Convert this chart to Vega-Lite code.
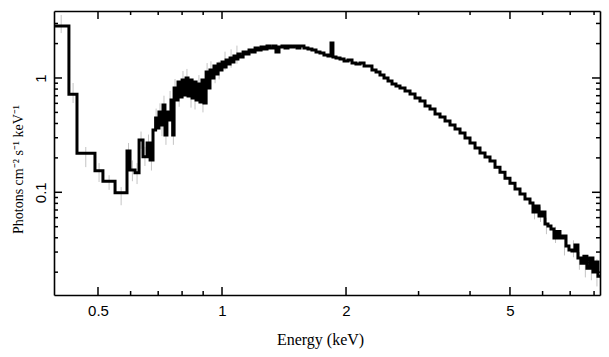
{
  "$schema": "https://vega.github.io/schema/vega-lite/v6.json",
  "width": 546,
  "height": 284,
  "autosize": {"type": "none"},
  "padding": {"left": 54, "top": 11, "right": 9, "bottom": 62},
  "background": "white",
  "config": {
    "view": {"stroke": null},
    "axis": {
      "grid": false,
      "domainColor": "black",
      "domainWidth": 1.6,
      "labelFont": "Liberation Sans",
      "labelFontSize": 15,
      "labelColor": "black",
      "labelOverlap": false,
      "labelFlush": false,
      "titleFont": "Liberation Serif",
      "titleFontSize": 15,
      "titleFontWeight": "normal",
      "titleColor": "black"
    }
  },
  "datasets": {
    "spec": [
      {"e": 0.385, "f": 2.85}, {"e": 0.425, "f": 0.72}, {"e": 0.4446, "f": 0.219}, {"e": 0.4916, "f": 0.154},
      {"e": 0.514, "f": 0.125}, {"e": 0.55, "f": 0.099}, {"e": 0.588, "f": 0.23}, {"e": 0.598, "f": 0.157},
      {"e": 0.615, "f": 0.148}, {"e": 0.629, "f": 0.287}, {"e": 0.643, "f": 0.205}, {"e": 0.658, "f": 0.27},
      {"e": 0.669, "f": 0.192}, {"e": 0.68, "f": 0.351}, {"e": 0.69, "f": 0.447}, {"e": 0.695, "f": 0.365},
      {"e": 0.703, "f": 0.504}, {"e": 0.711, "f": 0.388}, {"e": 0.719, "f": 0.58}, {"e": 0.727, "f": 0.317},
      {"e": 0.735, "f": 0.504}, {"e": 0.744, "f": 0.429}, {"e": 0.752, "f": 0.642}, {"e": 0.759, "f": 0.317},
      {"e": 0.765, "f": 0.818}, {"e": 0.773, "f": 0.642}, {"e": 0.782, "f": 0.923}, {"e": 0.791, "f": 0.682},
      {"e": 0.8, "f": 0.96}, {"e": 0.809, "f": 0.71}, {"e": 0.818, "f": 1.0}, {"e": 0.827, "f": 0.696},
      {"e": 0.836, "f": 0.96}, {"e": 0.846, "f": 0.668}, {"e": 0.855, "f": 0.923}, {"e": 0.865, "f": 0.642},
      {"e": 0.874, "f": 0.886}, {"e": 0.884, "f": 0.617}, {"e": 0.894, "f": 0.96}, {"e": 0.904, "f": 0.604},
      {"e": 0.915, "f": 1.129}, {"e": 0.925, "f": 0.818}, {"e": 0.935, "f": 1.175}, {"e": 0.946, "f": 1.0},
      {"e": 0.956, "f": 1.274}, {"e": 0.967, "f": 1.084}, {"e": 0.978, "f": 1.326}, {"e": 0.989, "f": 1.175},
      {"e": 1.0, "f": 1.38}, {"e": 1.011, "f": 1.248}, {"e": 1.023, "f": 1.437}, {"e": 1.034, "f": 1.326},
      {"e": 1.046, "f": 1.496}, {"e": 1.058, "f": 1.38}, {"e": 1.069, "f": 1.557}, {"e": 1.081, "f": 1.467},
      {"e": 1.093, "f": 1.622}, {"e": 1.106, "f": 1.527}, {"e": 1.125, "f": 1.689}, {"e": 1.144, "f": 1.622},
      {"e": 1.163, "f": 1.758}, {"e": 1.183, "f": 1.689}, {"e": 1.203, "f": 1.83}, {"e": 1.223, "f": 1.758},
      {"e": 1.244, "f": 1.868}, {"e": 1.265, "f": 1.794}, {"e": 1.286, "f": 1.905}, {"e": 1.307, "f": 1.83},
      {"e": 1.33, "f": 1.905}, {"e": 1.352, "f": 1.689}, {"e": 1.375, "f": 1.868}, {"e": 1.398, "f": 1.905},
      {"e": 1.422, "f": 1.83}, {"e": 1.446, "f": 1.905}, {"e": 1.47, "f": 1.868}, {"e": 1.495, "f": 1.905},
      {"e": 1.521, "f": 1.83}, {"e": 1.546, "f": 1.905}, {"e": 1.581, "f": 1.83}, {"e": 1.617, "f": 1.794},
      {"e": 1.653, "f": 1.758}, {"e": 1.691, "f": 1.689}, {"e": 1.729, "f": 1.656}, {"e": 1.768, "f": 1.59},
      {"e": 1.808, "f": 1.557}, {"e": 1.839, "f": 2.02}, {"e": 1.859, "f": 1.527}, {"e": 1.891, "f": 1.496},
      {"e": 1.934, "f": 1.467}, {"e": 1.978, "f": 1.409}, {"e": 2.022, "f": 1.437}, {"e": 2.068, "f": 1.353},
      {"e": 2.114, "f": 1.326}, {"e": 2.163, "f": 1.353}, {"e": 2.212, "f": 1.274}, {"e": 2.261, "f": 1.274},
      {"e": 2.312, "f": 1.175}, {"e": 2.365, "f": 1.129}, {"e": 2.418, "f": 1.062}, {"e": 2.473, "f": 1.0},
      {"e": 2.529, "f": 0.941}, {"e": 2.586, "f": 0.886}, {"e": 2.644, "f": 0.851}, {"e": 2.704, "f": 0.818},
      {"e": 2.781, "f": 0.77}, {"e": 2.86, "f": 0.725}, {"e": 2.941, "f": 0.668}, {"e": 3.024, "f": 0.629},
      {"e": 3.11, "f": 0.569}, {"e": 3.198, "f": 0.536}, {"e": 3.289, "f": 0.484}, {"e": 3.382, "f": 0.456},
      {"e": 3.478, "f": 0.42}, {"e": 3.576, "f": 0.388}, {"e": 3.678, "f": 0.358}, {"e": 3.782, "f": 0.33},
      {"e": 3.889, "f": 0.299}, {"e": 3.999, "f": 0.27}, {"e": 4.113, "f": 0.244}, {"e": 4.229, "f": 0.221},
      {"e": 4.349, "f": 0.204}, {"e": 4.472, "f": 0.188}, {"e": 4.599, "f": 0.166}, {"e": 4.729, "f": 0.15},
      {"e": 4.863, "f": 0.133}, {"e": 5.0, "f": 0.12}, {"e": 5.143, "f": 0.107}, {"e": 5.288, "f": 0.0965},
      {"e": 5.438, "f": 0.0873}, {"e": 5.592, "f": 0.0805}, {"e": 5.686, "f": 0.0673}, {"e": 5.783, "f": 0.076},
      {"e": 5.881, "f": 0.062}, {"e": 5.98, "f": 0.0673}, {"e": 6.081, "f": 0.0527}, {"e": 6.184, "f": 0.0506},
      {"e": 6.288, "f": 0.0478}, {"e": 6.394, "f": 0.0398}, {"e": 6.502, "f": 0.0453}, {"e": 6.612, "f": 0.0398},
      {"e": 6.724, "f": 0.0414}, {"e": 6.839, "f": 0.0339}, {"e": 6.953, "f": 0.0313}, {"e": 7.07, "f": 0.0306},
      {"e": 7.19, "f": 0.0346}, {"e": 7.311, "f": 0.0266}, {"e": 7.435, "f": 0.024}, {"e": 7.559, "f": 0.0276},
      {"e": 7.687, "f": 0.0217}, {"e": 7.818, "f": 0.0266}, {"e": 7.95, "f": 0.0201}, {"e": 8.085, "f": 0.0245},
      {"e": 8.176, "f": 0.0184}, {"e": 8.4, "f": 0.0184}
    ],
    "err": [
      {"ec": 0.407, "lo": 2.47, "hi": 3.56}, {"ec": 0.435, "lo": 0.604, "hi": 0.904}, {"ec": 0.467, "lo": 0.166, "hi": 0.249},
      {"ec": 0.503, "lo": 0.123, "hi": 0.18}, {"ec": 0.532, "lo": 0.105, "hi": 0.141}, {"ec": 0.569, "lo": 0.077, "hi": 0.111},
      {"ec": 0.593, "lo": 0.19, "hi": 0.27}, {"ec": 0.606, "lo": 0.125, "hi": 0.19}, {"ec": 0.622, "lo": 0.118, "hi": 0.18},
      {"ec": 0.636, "lo": 0.24, "hi": 0.34}, {"ec": 0.65, "lo": 0.17, "hi": 0.25}, {"ec": 0.663, "lo": 0.22, "hi": 0.32},
      {"ec": 0.674, "lo": 0.155, "hi": 0.23}, {"ec": 0.692, "lo": 0.36, "hi": 0.54}, {"ec": 0.707, "lo": 0.41, "hi": 0.6},
      {"ec": 0.715, "lo": 0.31, "hi": 0.46}, {"ec": 0.723, "lo": 0.47, "hi": 0.7}, {"ec": 0.731, "lo": 0.26, "hi": 0.39},
      {"ec": 0.748, "lo": 0.52, "hi": 0.77}, {"ec": 0.762, "lo": 0.26, "hi": 0.4}, {"ec": 0.769, "lo": 0.67, "hi": 0.98},
      {"ec": 0.787, "lo": 0.56, "hi": 0.82}, {"ec": 0.804, "lo": 0.79, "hi": 1.15}, {"ec": 0.822, "lo": 0.82, "hi": 1.2},
      {"ec": 0.841, "lo": 0.55, "hi": 0.8}, {"ec": 0.86, "lo": 0.53, "hi": 0.77}, {"ec": 0.879, "lo": 0.73, "hi": 1.06},
      {"ec": 0.899, "lo": 0.5, "hi": 0.73}, {"ec": 0.92, "lo": 0.93, "hi": 1.35}, {"ec": 0.94, "lo": 0.97, "hi": 1.4},
      {"ec": 0.962, "lo": 0.9, "hi": 1.3}, {"ec": 0.984, "lo": 0.97, "hi": 1.4}, {"ec": 1.017, "lo": 1.17, "hi": 1.7},
      {"ec": 1.052, "lo": 1.23, "hi": 1.78}, {"ec": 1.087, "lo": 1.33, "hi": 1.92},
      {"ec": 5.735, "lo": 0.058, "hi": 0.078}, {"ec": 5.93, "lo": 0.055, "hi": 0.075}, {"ec": 6.13, "lo": 0.043, "hi": 0.06},
      {"ec": 6.45, "lo": 0.036, "hi": 0.05}, {"ec": 6.78, "lo": 0.028, "hi": 0.04}, {"ec": 7.13, "lo": 0.027, "hi": 0.038},
      {"ec": 7.37, "lo": 0.021, "hi": 0.03}, {"ec": 7.62, "lo": 0.018, "hi": 0.026}, {"ec": 7.88, "lo": 0.017, "hi": 0.024},
      {"ec": 8.13, "lo": 0.015, "hi": 0.026}
    ],
    "xmaj": [{"v": 0.5}, {"v": 1}, {"v": 2}, {"v": 5}],
    "xmin": [{"v": 0.6}, {"v": 0.7}, {"v": 0.8}, {"v": 0.9}, {"v": 3}, {"v": 4}, {"v": 6}, {"v": 7}, {"v": 8}],
    "ymaj": [{"v": 0.1}, {"v": 1}],
    "ymin": [{"v": 0.02}, {"v": 0.03}, {"v": 0.04}, {"v": 0.05}, {"v": 0.06}, {"v": 0.07}, {"v": 0.08}, {"v": 0.09},
             {"v": 0.2}, {"v": 0.3}, {"v": 0.4}, {"v": 0.5}, {"v": 0.6}, {"v": 0.7}, {"v": 0.8}, {"v": 0.9}, {"v": 2}, {"v": 3}]
  },
  "layer": [
    {
      "data": {"name": "err"},
      "mark": {"type": "rule", "color": "#c4c4c4", "strokeWidth": 1, "clip": true},
      "encoding": {
        "x": {
          "field": "ec", "type": "quantitative",
          "scale": {"type": "log", "domain": [0.391, 8.27], "nice": false},
          "axis": {
            "orient": "bottom",
            "title": "Energy (keV)",
            "titleFontSize": 16,
            "values": [0.5, 1, 2, 5],
            "ticks": false,
            "labelPadding": 8,
            "titleX": 266,
            "titleY": 44,
            "titleBaseline": "middle",
            "titleAlign": "center"
          }
        },
        "y": {
          "field": "lo", "type": "quantitative",
          "scale": {"type": "log", "domain": [0.01263, 3.855], "nice": false},
          "axis": {
            "orient": "left",
            "title": "Photons cm⁻² s⁻¹ keV⁻¹",
            "titleFontSize": 14,
            "values": [0.1, 1],
            "ticks": false,
            "labelAngle": -90,
            "labelAlign": "center",
            "labelBaseline": "alphabetic",
            "labelPadding": 9,
            "titleAngle": -90,
            "titleX": -36,
            "titleY": 158,
            "titleBaseline": "middle",
            "titleAlign": "center"
          }
        },
        "y2": {"field": "hi"}
      }
    },
    {
      "data": {"name": "spec"},
      "mark": {"type": "line", "interpolate": "step-after", "color": "black", "strokeWidth": 3, "clip": true},
      "encoding": {
        "x": {
          "field": "e", "type": "quantitative",
          "scale": {"type": "log", "domain": [0.391, 8.27], "nice": false},
          "axis": {"orient": "top", "title": null, "labels": false, "ticks": false, "values": [1]}
        },
        "y": {
          "field": "f", "type": "quantitative",
          "scale": {"type": "log", "domain": [0.01263, 3.855], "nice": false},
          "axis": {"orient": "right", "title": null, "labels": false, "ticks": false, "values": [1]}
        }
      }
    },
    {
      "data": {"name": "xmaj"},
      "mark": {"type": "rule", "color": "black", "strokeWidth": 1.5},
      "encoding": {
        "x": {"field": "v", "type": "quantitative", "scale": {"type": "log", "domain": [0.391, 8.27], "nice": false}, "axis": null},
        "y": {"datum": 0.01263, "type": "quantitative", "scale": {"type": "log", "domain": [0.01263, 3.855], "nice": false}, "axis": null},
        "y2": {"datum": 0.01484}
      }
    },
    {
      "data": {"name": "xmaj"},
      "mark": {"type": "rule", "color": "black", "strokeWidth": 1.5},
      "encoding": {
        "x": {"field": "v", "type": "quantitative", "scale": {"type": "log", "domain": [0.391, 8.27], "nice": false}, "axis": null},
        "y": {"datum": 3.855, "type": "quantitative", "scale": {"type": "log", "domain": [0.01263, 3.855], "nice": false}, "axis": null},
        "y2": {"datum": 3.281}
      }
    },
    {
      "data": {"name": "xmin"},
      "mark": {"type": "rule", "color": "black", "strokeWidth": 1.5},
      "encoding": {
        "x": {"field": "v", "type": "quantitative", "scale": {"type": "log", "domain": [0.391, 8.27], "nice": false}, "axis": null},
        "y": {"datum": 0.01263, "type": "quantitative", "scale": {"type": "log", "domain": [0.01263, 3.855], "nice": false}, "axis": null},
        "y2": {"datum": 0.01369}
      }
    },
    {
      "data": {"name": "xmin"},
      "mark": {"type": "rule", "color": "black", "strokeWidth": 1.5},
      "encoding": {
        "x": {"field": "v", "type": "quantitative", "scale": {"type": "log", "domain": [0.391, 8.27], "nice": false}, "axis": null},
        "y": {"datum": 3.855, "type": "quantitative", "scale": {"type": "log", "domain": [0.01263, 3.855], "nice": false}, "axis": null},
        "y2": {"datum": 3.556}
      }
    },
    {
      "data": {"name": "ymaj"},
      "mark": {"type": "rule", "color": "black", "strokeWidth": 1.5},
      "encoding": {
        "y": {"field": "v", "type": "quantitative", "scale": {"type": "log", "domain": [0.01263, 3.855], "nice": false}, "axis": null},
        "x": {"datum": 0.391, "type": "quantitative", "scale": {"type": "log", "domain": [0.391, 8.27], "nice": false}, "axis": null},
        "x2": {"datum": 0.4089}
      }
    },
    {
      "data": {"name": "ymaj"},
      "mark": {"type": "rule", "color": "black", "strokeWidth": 1.5},
      "encoding": {
        "y": {"field": "v", "type": "quantitative", "scale": {"type": "log", "domain": [0.01263, 3.855], "nice": false}, "axis": null},
        "x": {"datum": 8.27, "type": "quantitative", "scale": {"type": "log", "domain": [0.391, 8.27], "nice": false}, "axis": null},
        "x2": {"datum": 7.909}
      }
    },
    {
      "data": {"name": "ymin"},
      "mark": {"type": "rule", "color": "black", "strokeWidth": 1.5},
      "encoding": {
        "y": {"field": "v", "type": "quantitative", "scale": {"type": "log", "domain": [0.01263, 3.855], "nice": false}, "axis": null},
        "x": {"datum": 0.391, "type": "quantitative", "scale": {"type": "log", "domain": [0.391, 8.27], "nice": false}, "axis": null},
        "x2": {"datum": 0.3998}
      }
    },
    {
      "data": {"name": "ymin"},
      "mark": {"type": "rule", "color": "black", "strokeWidth": 1.5},
      "encoding": {
        "y": {"field": "v", "type": "quantitative", "scale": {"type": "log", "domain": [0.01263, 3.855], "nice": false}, "axis": null},
        "x": {"datum": 8.27, "type": "quantitative", "scale": {"type": "log", "domain": [0.391, 8.27], "nice": false}, "axis": null},
        "x2": {"datum": 8.087}
      }
    }
  ],
  "resolve": {"axis": {"x": "independent", "y": "independent"}}
}
